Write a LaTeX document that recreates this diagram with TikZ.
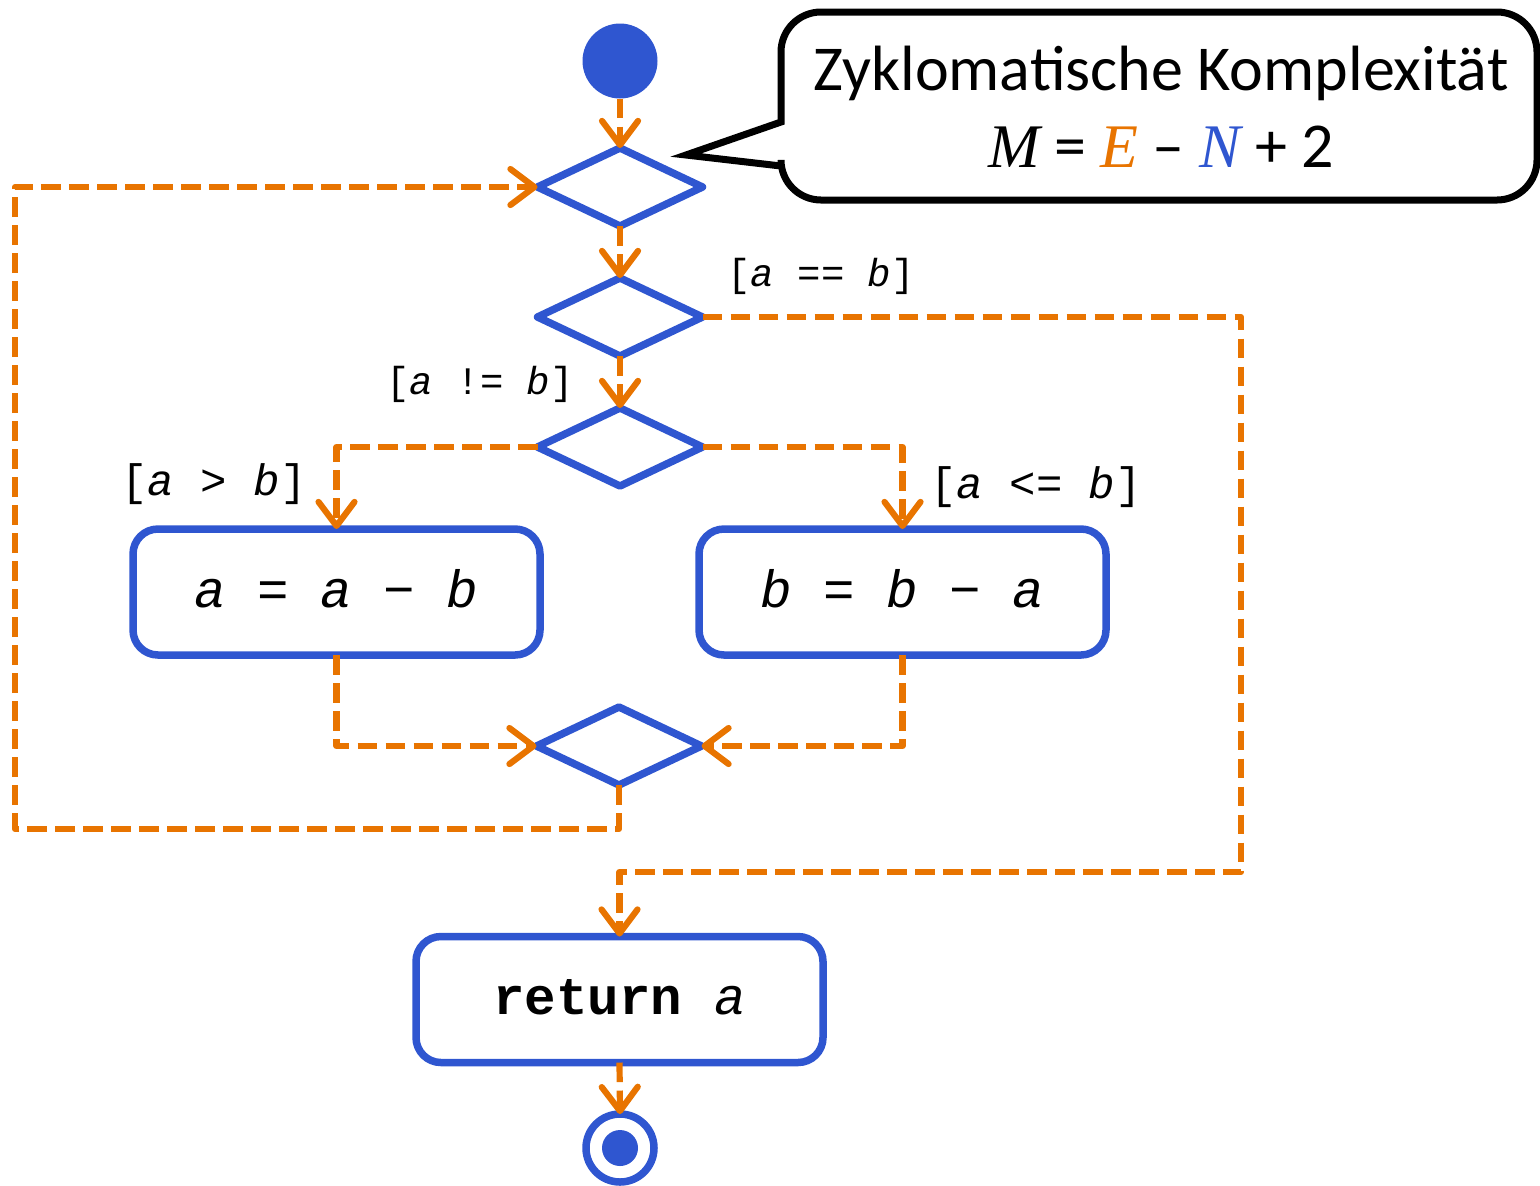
\documentclass[tikz,border=0pt]{standalone}
\usepackage{fontspec}
\setmainfont{Carlito}
\newfontfamily\monof{Liberation Mono}
\newfontfamily\mserif{Liberation Serif}
\usetikzlibrary{shapes.geometric,arrows.meta}
\definecolor{ublue}{HTML}{2F56D0}
\definecolor{uorange}{HTML}{E87400}
\begin{document}
\begin{tikzpicture}[x=0.5pt,y=-0.5pt,
  flow/.style={draw=uorange, line width=3.1pt, dash pattern=on 9.8pt off 4.2pt, line join=round,
    -{Straight Barb[length=12pt,width=18pt,round]}},
  dec/.style={diamond, draw=ublue, line width=3.75pt, minimum width=82.5pt, minimum height=39pt,
    inner sep=0pt, outer sep=0pt, fill=white, line join=round},
  act/.style={rectangle, rounded corners=12.5pt, draw=ublue, line width=3.75pt, minimum width=203.5pt,
    minimum height=63pt, inner sep=0pt, outer sep=0pt, text height=15pt, text depth=0pt,
    font=\monof\fontsize{26.25pt}{30pt}\selectfont},
  guard/.style={font=\monof\fontsize{19.5pt}{22pt}\selectfont, inner sep=0pt},
  guardL/.style={font=\monof\fontsize{22pt}{25pt}\selectfont, inner sep=0pt},
  ctext/.style={font=\fontsize{32pt}{40pt}\selectfont, anchor=base, inner sep=0pt},
]
\useasboundingbox (0,0) rectangle (1540,1185);

% callout
\draw[line width=3.5pt, fill=white, line join=miter]
  (686,155) -- (781,122) [rounded corners=20pt] -- (781,12) -- (1537,12) -- (1537,200) -- (781,200)
  [sharp corners] -- (781,166) -- cycle;
\node[ctext] (title) at (1161,90) {Zyklomatische Komplexität};
\node[ctext] (formula) at (1161,167)
  {{\mserif\itshape\fontsize{31pt}{40pt}\selectfont M} = {\mserif\itshape\fontsize{31pt}{40pt}\selectfont\color{uorange}E} – {\mserif\itshape\fontsize{31pt}{40pt}\selectfont\color{ublue}N} + 2};

% nodes
\node[circle, fill=ublue, minimum size=37.5pt, inner sep=0pt, outer sep=0pt] (start) at (620,61) {};
\node[dec] (d1) at (620,187) {};
\node[dec] (d2) at (620,317) {};
\node[dec] (d3) at (620,447) {};
\node[act] (boxA) at (336.5,592) {\textit{a} = \textit{a} − \textit{b}};
\node[act] (boxB) at (902.5,592) {\textit{b} = \textit{b} − \textit{a}};
\node[dec] (merge) at (619,746) {};
\node[act] (ret) at (619.5,999.5) {\textbf{return} \textit{a}};
\node[circle, draw=ublue, line width=3.75pt, minimum size=34pt, inner sep=0pt, outer sep=0pt] (end) at (620,1148) {};
\node[circle, fill=ublue, minimum size=18pt, inner sep=0pt] (endin) at (end.center) {};

% guards
\node[guard] (g1) at (821,276) {[\textit{a} == \textit{b}]};
\node[guard] (g2) at (480,384) {[\textit{a} != \textit{b}]};
\node[guardL] (g3) at (214,484) {[\textit{a} > \textit{b}]};
\node[guardL] (g4) at (1036,487) {[\textit{a} <= \textit{b}]};

% connectors
\draw[flow] (start.south) -- (d1.north);
\draw[flow] (d1.south) -- (d2.north);
\draw[flow] (d2.south) -- (d3.north);
\draw[flow] (d3.west) -| (boxA.north);
\draw[flow] (d3.east) -| (boxB.north);
\draw[flow] (boxA.south) |- (merge.west);
\draw[flow] (boxB.south) |- (merge.east);
\draw[flow] (merge.south) -- (619,829) -- (15,829) -- (15,187) -- (d1.west);
\draw[flow] (d2.east) -- (1241,317) -- (1241,872) -- (619.5,872) -- (ret.north);
\draw[flow] (ret.south) -- (end.north);
\end{tikzpicture}
\end{document}
